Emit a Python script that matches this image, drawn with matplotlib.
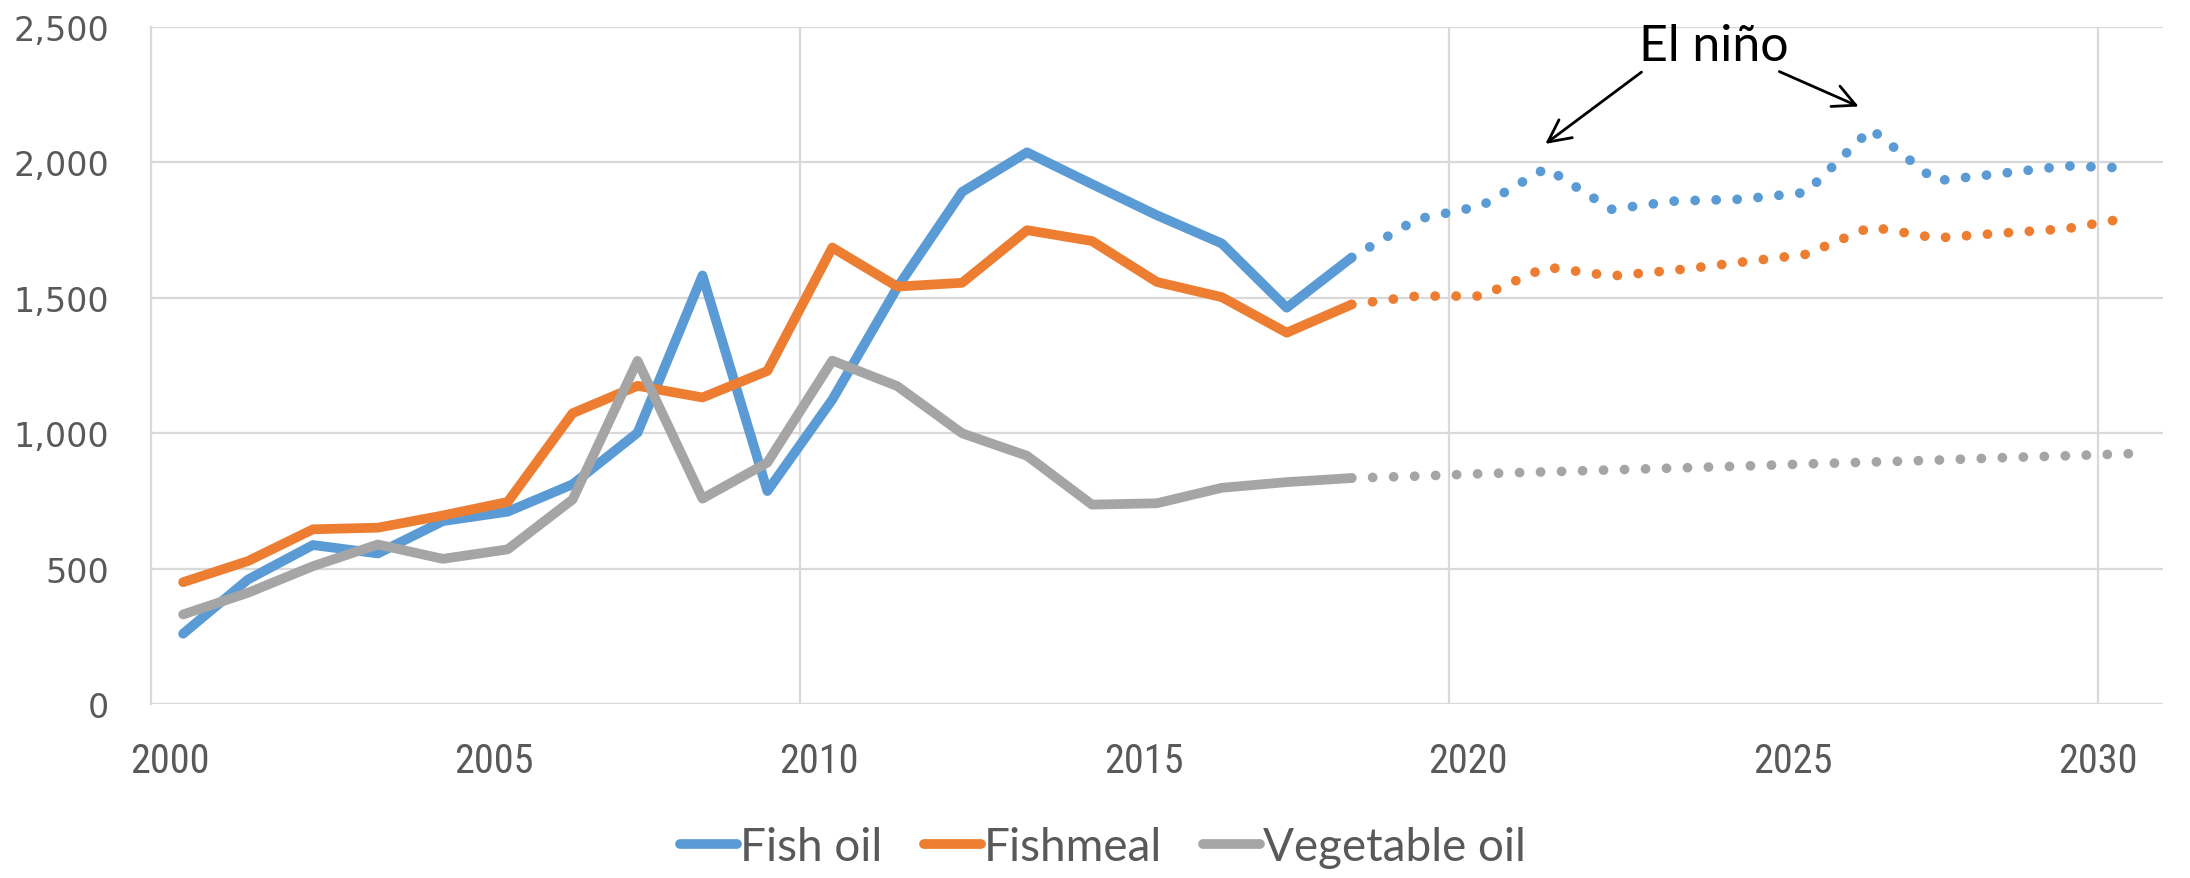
import numpy as np
import matplotlib
matplotlib.use("Agg")
import matplotlib.pyplot as plt
from matplotlib.transforms import ScaledTranslation

# observed series, one value per year 2000..2018 (plotted at mid-year)
hist_years = list(range(2000, 2019))
fish_oil_hist = [261, 461, 588, 557, 676, 711, 812, 1002, 1582, 787,
                 1124, 1537, 1890, 2036, 1919, 1804, 1700, 1463, 1648]
fishmeal_hist = [451, 529, 646, 652, 697, 747, 1074, 1175, 1132, 1230,
                 1685, 1541, 1555, 1749, 1709, 1558, 1502, 1371, 1475]
veg_oil_hist = [332, 412, 510, 590, 537, 572, 756, 1267, 759, 892,
                1268, 1174, 1000, 917, 737, 742, 799, 820, 835]

# projections 2018..2030 (dotted)
proj_years = list(range(2018, 2031))
fish_oil_proj = [1648, 1789, 1839, 1978, 1826, 1857, 1863, 1888, 2122,
                 1931, 1958, 1986, 1978]
fishmeal_proj = [1475, 1506, 1506, 1613, 1580, 1602, 1631, 1660, 1761,
                 1720, 1738, 1754, 1796]
veg_oil_proj = [835, 842, 851, 858, 865, 872, 879, 887, 894, 901, 910,
                917, 925]

series = [
    ("Fish oil", "#5B9BD5", fish_oil_hist, fish_oil_proj),
    ("Fishmeal", "#ED7D31", fishmeal_hist, fishmeal_proj),
    ("Vegetable oil", "#A5A5A5", veg_oil_hist, veg_oil_proj),
]

NARROW = ["Lato", "DejaVu Sans"]
COND = ["Roboto Condensed", "Lato", "DejaVu Sans"]
TXT = "#595959"
GRID = "#D9D9D9"
LW = 7

fig = plt.figure(figsize=(21.9, 8.79), dpi=100)
ax = fig.add_axes([0.0688, 0.1974, 0.9189, 0.7713])

xh = np.array(hist_years) + 0.5
xp = np.array(proj_years) + 0.5
for name, col, hist, proj in series:
    ax.plot(xh, hist, color=col, lw=LW, solid_capstyle="round",
            solid_joinstyle="round", label=name, zorder=3)
    ax.plot(xp, proj, color=col, lw=LW, ls=(0, (0.01, 2.15)),
            dash_capstyle="round", zorder=3)

ax.set_xlim(2000, 2031)
ax.set_ylim(0, 2500)
ax.set_yticks(np.arange(0, 2501, 500))
ax.set_yticklabels([f"{v:,}" for v in range(0, 2501, 500)])
ax.set_xticks(range(2000, 2031, 5))
ax.tick_params(length=0)
ax.tick_params(axis="y", pad=30, labelsize=24, labelcolor=TXT)
ax.tick_params(axis="x", pad=26, labelsize=29, labelcolor=TXT)
for lab in ax.get_yticklabels():
    lab.set_family("DejaVu Sans")
# the year labels sit a little right of their gridline (except the last one)
shift = ScaledTranslation(0.19, 0, fig.dpi_scale_trans)
for lab in ax.get_xticklabels()[:-1]:
    lab.set_transform(lab.get_transform() + shift)
for lab in ax.get_xticklabels():
    lab.set_family(COND)

ax.grid(True, axis="y", color=GRID, lw=1.6)
for yr in (2010, 2020, 2030):
    ax.axvline(yr, color=GRID, lw=1.6, zorder=0)
ax.set_axisbelow(True)
for s in ("top", "right", "bottom"):
    ax.spines[s].set_visible(False)
ax.spines["left"].set_color(GRID)
ax.spines["left"].set_linewidth(1.6)

# El nino annotation
ax.text(2024.08, 2375, "El niño", ha="center", va="baseline",
        fontsize=36, family=NARROW, fontweight="normal", color="black")
arrow = dict(arrowstyle="->", color="black", lw=2, mutation_scale=40)
ax.annotate("", xy=(2021.45, 2061), xytext=(2023.0, 2338), arrowprops=arrow)
ax.annotate("", xy=(2026.35, 2201), xytext=(2025.05, 2338), arrowprops=arrow)

leg = fig.legend(loc="center", bbox_to_anchor=(0.5037, 0.0353), ncol=3,
                 frameon=False, handlelength=1.25, handletextpad=0.06,
                 columnspacing=0.9, prop={"family": NARROW, "size": 33})
for t in leg.get_texts():
    t.set_color(TXT)

fig.savefig("out.png", dpi=100)
